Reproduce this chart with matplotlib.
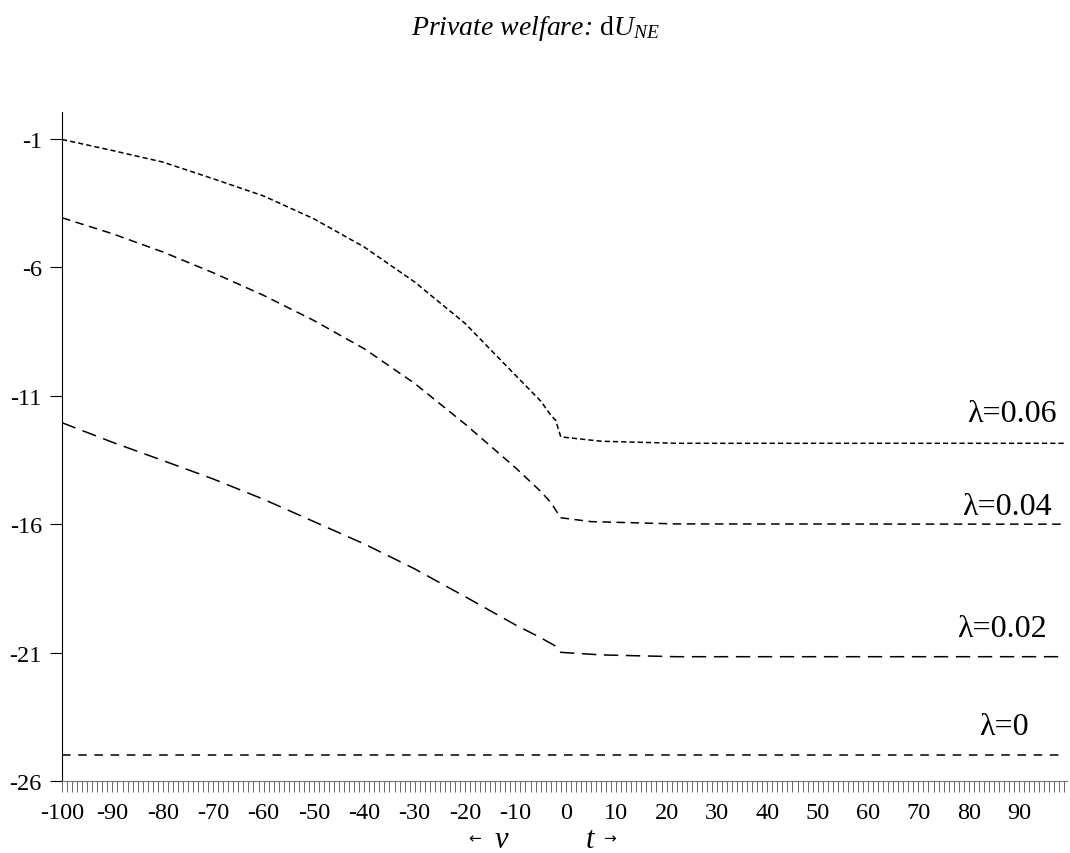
import matplotlib
matplotlib.use("Agg")
import matplotlib.pyplot as plt
from matplotlib.ticker import MultipleLocator

plt.rcParams['font.family'] = ['Liberation Serif', 'DejaVu Serif']
plt.rcParams['mathtext.fontset'] = 'custom'
plt.rcParams['mathtext.rm'] = 'Liberation Serif'
plt.rcParams['mathtext.it'] = 'Liberation Serif:italic'
plt.rcParams['axes.unicode_minus'] = False

# values
x_06 = [-100, -90, -80, -70, -60, -50, -40, -30, -20, -10, -5, -3, -2, -1, 7, 22, 99]
y_06 = [-1.02, -1.45, -1.90, -2.55, -3.22, -4.11, -5.21, -6.57, -8.18, -10.2,
        -11.2, -11.75, -11.96, -12.60, -12.77, -12.85, -12.85]

x_04 = [-100, -90, -80, -70, -60, -50, -40, -30, -20, -10, -5, -3, -1, 5, 22, 99]
y_04 = [-4.07, -4.69, -5.40, -6.21, -7.09, -8.07, -9.17, -10.52, -12.1, -13.8,
        -14.72, -15.15, -15.75, -15.90, -15.99, -16.00]

x_02 = [-100, -90, -80, -70, -60, -50, -40, -30, -20, -10, -5, -2, -1, 7, 22, 99]
y_02 = [-12.05, -12.81, -13.52, -14.24, -15.03, -15.90, -16.77, -17.74, -18.82, -19.92,
        -20.42, -20.75, -20.99, -21.09, -21.16, -21.16]

x_00 = [-100, 99]
y_00 = [-25.0, -25.0]

labels = ["λ=0.06", "λ=0.04", "λ=0.02", "λ=0"]
yticks = [-26, -21, -16, -11, -6, -1]

fig = plt.figure(figsize=(10.7, 8.54), dpi=100)
ax = fig.add_axes([0.058, 0.0843, 0.9392, 0.7834])

ax.plot(x_06, y_06, color="black", lw=1.1, dashes=(3.4, 2.0))
ax.plot(x_04, y_04, color="black", lw=1.1, dashes=(5.6, 3.6))
ax.plot(x_02, y_02, color="black", lw=1.1, dashes=(9.4, 5.0))
ax.plot(x_00, y_00, color="black", lw=1.1, dashes=(5.6, 5.0))

# curve labels
ax.text(97.5, -12.0, labels[0], ha="right", va="baseline", fontsize=23)
ax.text(96.5, -15.6, labels[1], ha="right", va="baseline", fontsize=23)
ax.text(95.5, -20.35, labels[2], ha="right", va="baseline", fontsize=23)
ax.text(87.0, -24.17, labels[3], ha="center", va="baseline", fontsize=23)

ax.set_xlim(-100, 99.5)
ax.set_ylim(-26, 0.05)
ax.spines["top"].set_visible(False)
ax.spines["right"].set_visible(False)
ax.spines["bottom"].set_color("0.45")

ax.xaxis.set_major_locator(MultipleLocator(10))
ax.xaxis.set_minor_locator(MultipleLocator(1))
ax.set_xticks(range(-100, 100, 10))
ax.tick_params(axis="x", which="both", direction="out", length=8, width=0.6,
               color="0.3", pad=7, labelsize=17.5)
ax.set_yticks(yticks)
ax.tick_params(axis="y", direction="out", length=8.5, width=0.8, pad=6, labelsize=17.5)

fig.text(0.5, 1 - 35 / 854, r"Private welfare: $\mathrm{d}U_{NE}$",
         ha="center", va="baseline", fontsize=20, style="italic")

fig.text(475 / 1070, 1 - 843 / 854, "←", ha="center", va="baseline", fontsize=11,
         family=["DejaVu Sans"])
fig.text(501 / 1070, 1 - 848 / 854, "v", ha="center", va="baseline", fontsize=22,
         style="italic")
fig.text(590 / 1070, 1 - 848 / 854, "t", ha="center", va="baseline", fontsize=22,
         style="italic")
fig.text(609 / 1070, 1 - 843 / 854, "→", ha="center", va="baseline", fontsize=11,
         family=["DejaVu Sans"])

fig.savefig("out.png", dpi=100)
